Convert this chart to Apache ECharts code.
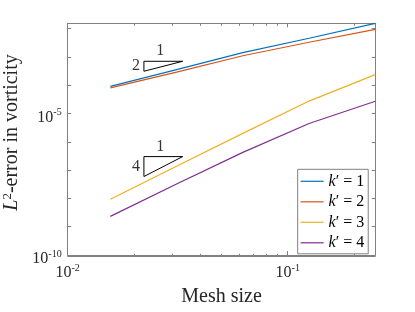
<!DOCTYPE html>
<html><head><meta charset="utf-8">
<script src="https://cdn.jsdelivr.net/npm/echarts@6/dist/echarts.min.js"></script>
<style>html,body{margin:0;padding:0;background:#fff}#c{width:415px;height:312px}</style>
</head><body><div id="c"></div>
<script>
// ---- data ----
const meshSizes = [1/64, 1/32, 1/16, 1/8, 1/4];
const errK1 = [9.14e-5, 3.57e-4, 1.41e-3, 4.55e-3, 1.54e-2];
const errK2 = [8.04e-5, 2.89e-4, 1.10e-3, 3.30e-3, 9.44e-3];
const errK3 = [9.37e-9, 1.36e-7, 1.98e-6, 2.75e-5, 2.36e-4];
const errK4 = [2.31e-9, 3.24e-8, 4.24e-7, 4.45e-6, 2.71e-5];
const seriesNames = ['k′ = 1', 'k′ = 2', 'k′ = 3', 'k′ = 4'];
const seriesColors = ['#0072BD', '#D95319', '#EDB120', '#7E2F8E'];
const xLabelTicks = [0.01, 0.1];
const xMinorTicks = [0.02, 0.03, 0.04, 0.05, 0.06, 0.07, 0.08, 0.09, 0.2];
const yLabelTicks = [1e-10, 1e-5];
const yTicks = [1e-10, 1e-9, 1e-8, 1e-7, 1e-6, 1e-5, 1e-4, 1e-3, 1e-2];
// slope triangles: [x left, x right], [y top, y bottom]
const tri1X = [0.0222, 0.0333];
const tri1Y = [7.0e-4, 3.11e-4];
const tri1Labels = ['1', '2'];
const tri2X = [0.0222, 0.0333];
const tri2Y = [3.0e-7, 5.93e-8];
const tri2Labels = ['1', '4'];

const FONT = 'Liberation Serif';
const TXT = '#262626';
const AX = '#808080';
const X_MIN = 0.01, X_MAX = 0.25, Y_MIN = 1e-10, Y_MAX = 0.0154;

function expLabel(v) {
  const e = Math.round(Math.log10(v));
  return '{b|10}{s|' + e + '}';
}
const labelRich = {
  b: {fontFamily: FONT, fontSize: 16, lineHeight: 20, color: TXT},
  s: {fontFamily: FONT, fontSize: 10, lineHeight: 10, verticalAlign: 'top', color: TXT}
};

function triData(xs, ys) {
  return [[xs[0], ys[0]], [xs[1], ys[0]], [xs[0], ys[1]], [xs[0], ys[0]]];
}
function triLabelData(xs, ys, labels) {
  return [
    {value: [Math.sqrt(xs[0] * xs[1]) * 0.97, ys[0]], label: {formatter: labels[0], position: 'top', distance: 2}},
    {value: [xs[0], Math.sqrt(ys[0] * ys[1])], label: {formatter: labels[1], position: 'left', distance: 4}}
  ];
}

const gridRect = {left: 67.7, right: 39.7, top: 23.3, bottom: 55.7};
function xAx(grid, pos, ticks, len, withLabels) {
  const o = {
    type: 'log', logBase: 10, min: X_MIN, max: X_MAX, gridIndex: grid, position: pos,
    splitLine: {show: false}, minorTick: {show: false},
    axisLine: {show: true, lineStyle: {color: AX, width: 1}},
    axisTick: {show: true, inside: true, length: len, customValues: ticks, lineStyle: {color: AX, width: 1}},
    axisLabel: {show: false}
  };
  if (withLabels) {
    o.axisLabel = {show: true, customValues: xLabelTicks, formatter: expLabel, rich: labelRich, margin: 8};
    o.name = 'Mesh size';
    o.nameLocation = 'middle';
    o.nameGap = 32;
    o.nameTextStyle = {fontFamily: FONT, fontSize: 20, color: TXT};
  }
  return o;
}
function yAx(grid, pos, showTicks, withLabels) {
  const o = {
    type: 'log', logBase: 10, min: Y_MIN, max: Y_MAX, gridIndex: grid, position: pos,
    splitLine: {show: false}, minorTick: {show: false},
    axisLine: {show: grid === 0, lineStyle: {color: AX, width: 1}},
    axisTick: {show: showTicks, inside: true, length: 3.5, customValues: yTicks, lineStyle: {color: AX, width: 1}},
    axisLabel: {show: false}
  };
  if (withLabels) {
    o.axisLabel = {show: true, customValues: yLabelTicks, formatter: expLabel, rich: labelRich, margin: 6, padding: [8, 0, 0, 0]};
  }
  return o;
}

const errs = [errK1, errK2, errK3, errK4];
const series = errs.map((arr, i) => ({
  name: seriesNames[i], type: 'line', xAxisIndex: 0, yAxisIndex: 0,
  data: meshSizes.map((h, j) => [h, arr[j]]),
  symbol: 'none', lineStyle: {color: seriesColors[i], width: 1.2}, itemStyle: {color: seriesColors[i]},
  silent: true, animation: false, z: 3
}));
[[tri1X, tri1Y], [tri2X, tri2Y]].forEach(([xs, ys]) => {
  series.push({type: 'line', xAxisIndex: 0, yAxisIndex: 0, data: triData(xs, ys), symbol: 'none',
    lineStyle: {color: '#000', width: 1}, silent: true, animation: false, z: 4});
});
[[tri1X, tri1Y, tri1Labels], [tri2X, tri2Y, tri2Labels]].forEach(([xs, ys, ls]) => {
  series.push({type: 'scatter', xAxisIndex: 0, yAxisIndex: 0, symbolSize: 0, data: triLabelData(xs, ys, ls),
    label: {show: true, fontFamily: FONT, fontSize: 16, color: '#000'}, silent: true, animation: false, z: 5});
});

const chart = echarts.init(document.getElementById('c'), null, {renderer: 'canvas'});
chart.setOption({
  animation: false,
  backgroundColor: '#fff',
  grid: [Object.assign({}, gridRect), Object.assign({}, gridRect)],
  xAxis: [
    xAx(0, 'bottom', xLabelTicks, 4, true),
    xAx(0, 'top', xLabelTicks, 4, false),
    xAx(1, 'bottom', xMinorTicks, 2.5, false),
    xAx(1, 'top', xMinorTicks, 2.5, false)
  ],
  yAxis: [
    yAx(0, 'left', true, true),
    yAx(0, 'right', true, false),
    yAx(1, 'left', false, false),
    yAx(1, 'right', false, false)
  ],
  legend: {
    data: seriesNames, orient: 'vertical', left: 297.7, top: 169.3,
    padding: [4, 4, 3, 2.3], itemWidth: 23, itemHeight: 14, itemGap: 4.5,
    backgroundColor: '#fff', borderColor: AX, borderWidth: 1, borderRadius: 0,
    itemStyle: {color: 'rgba(0,0,0,0)', borderColor: 'rgba(0,0,0,0)', borderWidth: 0},
    lineStyle: {width: 1.2},
    textStyle: {fontFamily: FONT, fontSize: 16, color: '#000', rich: {i: {fontFamily: FONT, fontSize: 16, fontStyle: 'italic', color: '#000'}}},
    formatter: name => '{i|k}' + name.slice(1),
    selectedMode: false
  },
  graphic: [{
    type: 'text', x: 12, y: 132.5, rotation: Math.PI / 2,
    style: {
      text: '{i|L}{s|2}{n|-error in vorticity}', align: 'center', verticalAlign: 'middle',
      rich: {
        i: {fontFamily: FONT, fontSize: 20, fontStyle: 'italic', lineHeight: 22, fill: TXT, color: TXT},
        s: {fontFamily: FONT, fontSize: 13, lineHeight: 13, verticalAlign: 'top', fill: TXT, color: TXT},
        n: {fontFamily: FONT, fontSize: 20, lineHeight: 22, fill: TXT, color: TXT}
      }
    }
  }],
  series: series
});
</script></body></html>
